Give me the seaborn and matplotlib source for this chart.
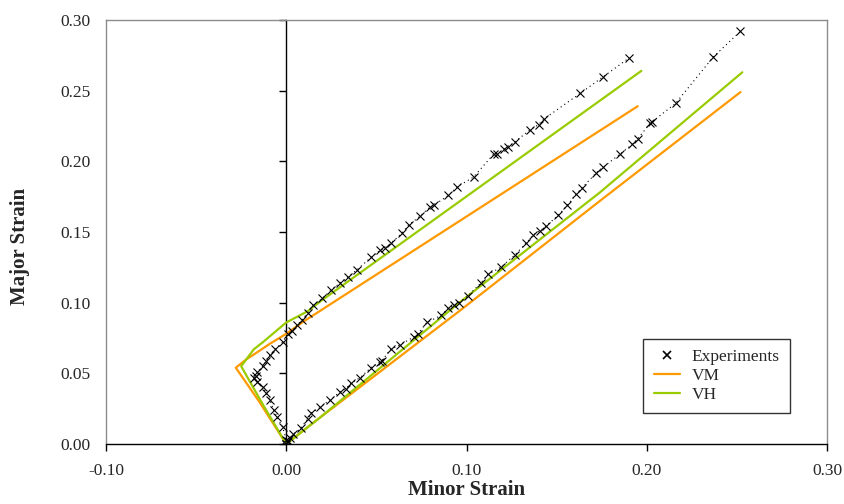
import numpy as np
import pandas as pd
import matplotlib
matplotlib.use("Agg")
import matplotlib.pyplot as plt
from matplotlib.lines import Line2D
import seaborn as sns

# 実験値 (上側の経路: 原点 -> 左の角 -> 右上)
exp_a_minor = [0.000, 0.000, -0.002, -0.005, -0.007, -0.009, -0.011, -0.013, -0.016, -0.018,
               -0.017, -0.016, -0.013, -0.011, -0.009, -0.006, -0.002, 0.001, 0.003, 0.006,
               0.009, 0.012, 0.015, 0.020, 0.025, 0.030, 0.034, 0.039, 0.047, 0.052,
               0.055, 0.058, 0.064, 0.068, 0.074, 0.080, 0.082, 0.090, 0.095, 0.104,
               0.115, 0.117, 0.121, 0.123, 0.127, 0.135, 0.140, 0.143, 0.163, 0.176, 0.190]
exp_a_major = [0.000, 0.003, 0.012, 0.019, 0.024, 0.031, 0.036, 0.040, 0.044, 0.047,
               0.048, 0.051, 0.055, 0.059, 0.063, 0.067, 0.072, 0.078, 0.080, 0.084,
               0.088, 0.093, 0.098, 0.103, 0.109, 0.114, 0.118, 0.123, 0.132, 0.137,
               0.139, 0.142, 0.149, 0.155, 0.161, 0.168, 0.169, 0.176, 0.182, 0.189,
               0.205, 0.205, 0.209, 0.210, 0.214, 0.222, 0.226, 0.230, 0.248, 0.260, 0.273]

# 実験値 (下側の経路: 原点 -> 右上)
exp_b_minor = [0.000, 0.001, 0.002, 0.004, 0.008, 0.012, 0.014, 0.019, 0.024, 0.030,
               0.033, 0.036, 0.041, 0.047, 0.052, 0.053, 0.058, 0.063, 0.071, 0.073,
               0.078, 0.086, 0.090, 0.093, 0.096, 0.101, 0.108, 0.112, 0.119, 0.127,
               0.133, 0.137, 0.141, 0.144, 0.151, 0.156, 0.161, 0.164, 0.172, 0.176,
               0.185, 0.192, 0.195, 0.202, 0.203, 0.216, 0.237, 0.252]
exp_b_major = [0.000, 0.002, 0.004, 0.007, 0.011, 0.018, 0.022, 0.026, 0.031, 0.037,
               0.039, 0.043, 0.047, 0.054, 0.058, 0.059, 0.067, 0.070, 0.076, 0.078,
               0.086, 0.091, 0.096, 0.098, 0.100, 0.105, 0.114, 0.120, 0.125, 0.134,
               0.142, 0.148, 0.151, 0.154, 0.162, 0.169, 0.177, 0.181, 0.192, 0.196,
               0.205, 0.212, 0.216, 0.227, 0.228, 0.241, 0.274, 0.292]

# VM モデル
vm_a_minor = [0.000, -0.015, -0.028, -0.022, -0.016, -0.009, 0.000, 0.010, 0.195]
vm_a_major = [0.000, 0.030, 0.054, 0.060, 0.065, 0.071, 0.078, 0.087, 0.239]
vm_b_minor = [0.000, 0.017, 0.097, 0.173, 0.252]
vm_b_major = [0.000, 0.017, 0.095, 0.171, 0.249]

# VH モデル
vh_a_minor = [0.000, -0.013, -0.025, -0.018, -0.013, 0.000, 0.012, 0.019, 0.197]
vh_a_major = [0.000, 0.028, 0.055, 0.067, 0.072, 0.086, 0.094, 0.101, 0.264]
vh_b_minor = [0.000, 0.019, 0.096, 0.174, 0.253]
vh_b_major = [0.000, 0.019, 0.100, 0.178, 0.263]


def to_df(minor, major, branch):
    return pd.DataFrame({"minor": minor, "major": major, "branch": branch})


exp_df = pd.concat([to_df(exp_a_minor, exp_a_major, "a"), to_df(exp_b_minor, exp_b_major, "b")])
vm_df = pd.concat([to_df(vm_a_minor, vm_a_major, "a"), to_df(vm_b_minor, vm_b_major, "b")])
vh_df = pd.concat([to_df(vh_a_minor, vh_a_major, "a"), to_df(vh_b_minor, vh_b_major, "b")])

sns.set_style("white")
plt.rcParams["font.family"] = ["Liberation Serif", "DejaVu Serif"]

orange = "#FF9900"
green = "#99CC00"

fig = plt.figure(figsize=(8.45, 5.04), dpi=100)
ax = fig.add_axes([106 / 845, 1 - 444 / 504, 721 / 845, 424 / 504])

sns.lineplot(data=vm_df, x="minor", y="major", units="branch", estimator=None, sort=False,
             color=orange, lw=1.6, ax=ax)
sns.lineplot(data=vh_df, x="minor", y="major", units="branch", estimator=None, sort=False,
             color=green, lw=1.6, ax=ax)
sns.lineplot(data=exp_df, x="minor", y="major", units="branch", estimator=None, sort=False,
             color="black", lw=0.8, linestyle=(0, (1, 3)), marker="x", markersize=6,
             markeredgewidth=0.8, markeredgecolor="black", ax=ax)

ax.set_xlim(-0.1, 0.3)
ax.set_ylim(0.0, 0.3)
ax.set_xticks([-0.1, 0.0, 0.1, 0.2, 0.3])
ax.set_yticks(np.arange(0, 0.301, 0.05))
ax.xaxis.set_major_formatter(matplotlib.ticker.FormatStrFormatter("%.2f"))
ax.yaxis.set_major_formatter(matplotlib.ticker.FormatStrFormatter("%.2f"))

for s in ["left", "top", "right"]:
    ax.spines[s].set_color("#8c8c8c")
    ax.spines[s].set_linewidth(1.0)
ax.spines["bottom"].set_color("black")
ax.spines["bottom"].set_linewidth(1.0)

ax.tick_params(axis="x", direction="out", length=5, width=1, color="black",
               labelsize=12.5, pad=9, bottom=True)
ax.tick_params(axis="y", length=0, labelsize=12.5, pad=11)

# 縦軸は x=0 で交差
sec = ax.secondary_yaxis(0.25)
sec.set_yticks(np.arange(0, 0.301, 0.05))
sec.set_yticklabels([])
sec.spines["left"].set_color("black")
sec.spines["left"].set_linewidth(1.0)
sec.tick_params(axis="y", direction="out", length=5, width=1, color="black")

ax.set_xlabel("Minor Strain", fontsize=15, fontweight="bold", va="center")
ax.set_ylabel("Major Strain", fontsize=15, fontweight="bold", va="center")
ax.xaxis.set_label_coords(0.5, -0.108)
ax.yaxis.set_label_coords(-0.119, 0.465)

handles = [
    Line2D([], [], color="black", marker="x", linestyle="none", markersize=6, markeredgewidth=1.2),
    Line2D([], [], color=orange, lw=1.6),
    Line2D([], [], color=green, lw=1.6),
]
leg = ax.legend(handles, ["Experiments", "VM", "VH"], loc="upper left",
                bbox_to_anchor=(0.745, 0.248), borderaxespad=0, fontsize=12.5, frameon=True,
                fancybox=False, edgecolor="black", borderpad=0.6, handlelength=1.5,
                handletextpad=0.7, labelspacing=0.15)
leg.get_frame().set_linewidth(1.0)

fig.savefig("out.png", dpi=100)
